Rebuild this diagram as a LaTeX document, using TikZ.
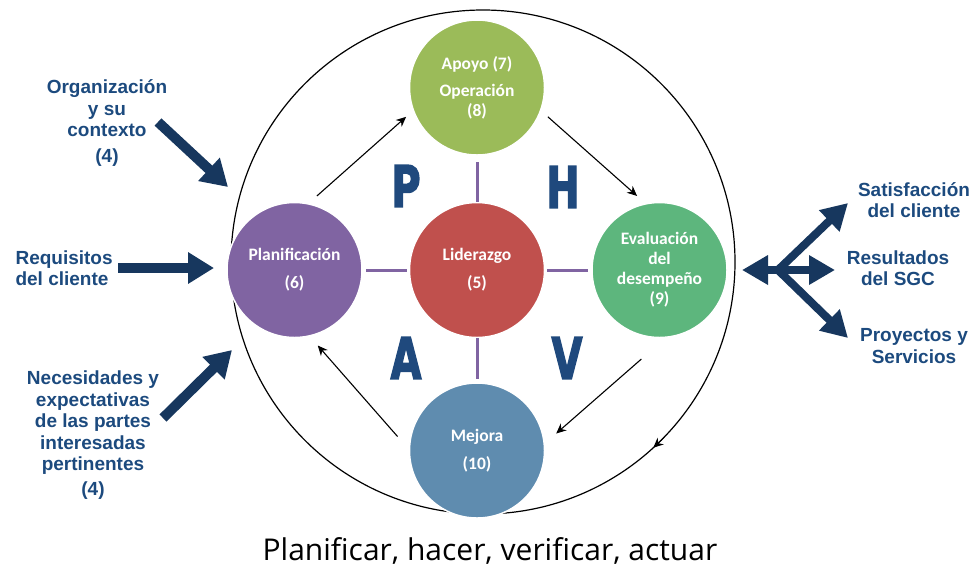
\documentclass[tikz,border=0pt]{standalone}
\usepackage{fontspec}
\setmainfont{Liberation Sans}
\newfontfamily\circfont{Carlito}
\newfontfamily\captfont{Open Sans}
\newfontfamily\letterfont{DejaVu Sans}[BoldFeatures={FakeBold=3}]
\usetikzlibrary{arrows.meta,positioning,shapes}

\definecolor{lidred}{HTML}{C0504D}
\definecolor{apoyogreen}{HTML}{9BBB59}
\definecolor{planpurple}{HTML}{8064A2}
\definecolor{evalgreen}{HTML}{5DB67D}
\definecolor{mejorablue}{HTML}{5F8CAF}
\definecolor{letterblue}{HTML}{1F497D}
\definecolor{labelblue}{HTML}{1C4A7E}
\definecolor{arrowblue}{HTML}{17375E}

\begin{document}
\begin{tikzpicture}[x=1pt,y=-1pt,>={Stealth[length=10pt,width=9pt]},thin]
\tikzstyle{phase}=[circle,draw=white,line width=1.5pt,minimum size=135pt,inner sep=0pt,text=white,align=center,font=\circfont\bfseries\fontsize{17.5}{20}\selectfont]
\tikzstyle{link}=[draw=planpurple,line width=3pt]
\tikzstyle{flow}=[->,line width=1.1pt]
\tikzstyle{bigarrow}=[draw=arrowblue,line width=10pt,-{Triangle[length=26pt,width=30pt]}]
\tikzstyle{outarrow}=[draw=arrowblue,line width=8pt,-{Triangle[length=26pt,width=28pt]}]
\tikzstyle{letter}=[text=letterblue,font=\letterfont\bfseries\fontsize{57}{57}\selectfont]
\tikzstyle{label}=[text=labelblue,align=center,font=\bfseries\fontsize{19}{21.5}\selectfont]

\useasboundingbox (0,0) rectangle (976,566);

\node[draw,circle,line width=1.2pt,minimum size=504pt,inner sep=0pt] (ring) at (483,262) {};
\draw[flow] ([shift={(44:252)}]ring.center) arc[start angle=44,end angle=47.5,radius=252];

\node[phase,fill=lidred]     (lid)    at (477,270)        {Liderazgo\\[8pt](5)};
\node[phase,fill=apoyogreen] (apoyo)  [above=46pt of lid] {Apoyo (7)\\[7pt]Operación\\(8)};
\node[phase,fill=planpurple] (plan)   [left=46pt of lid]  {Planificación\\[8pt](6)};
\node[phase,fill=evalgreen]  (eval)   [right=46pt of lid] {Evaluación\\del\\desempeño\\(9)};
\node[phase,fill=mejorablue] (mejora) [below=44pt of lid] {Mejora\\[8pt](10)};

\path[link]
(lid) edge[shorten >=6pt] (apoyo)
(lid) edge[shorten >=3pt,shorten <=2pt] (plan)
(lid) edge[shorten >=3pt,shorten <=2pt] (eval)
(lid) edge[shorten >=3pt] (mejora);

\path[flow]
(plan.78)    edge[shorten <=11pt,shorten >=9pt]  (apoyo.200)
(apoyo.-20)  edge[shorten <=9pt,shorten >=11pt]  (eval.102)
(eval.-85)   edge[shorten <=32pt,shorten >=15pt] (mejora.6)
(mejora.179) edge[shorten <=17pt,shorten >=12pt] (plan.-77);

\node[letter] (P) at (406,186) {\scalebox{0.7}[1]{P}};
\node[letter] (H) at (563,187) {\scalebox{0.7}[1]{H}};
\node[letter] (A) at (406,358) {\scalebox{0.7}[1]{A}};
\node[letter] (V) at (567,358) {\scalebox{0.7}[1]{V}};

% entradas
\node[label] (org) at (107,123) {Organización\\y su\\contexto\\[4pt](4)};
\node[label,align=left,anchor=west] (req) at (12,268) {Requisitos\\del cliente};
\node[label] (nec) at (93,435) {Necesidades y\\expectativas\\de las partes\\interesadas\\pertinentes\\[3pt](4)};

\coordinate (orgtail) at (158,122);
\coordinate (orgtip)  at (228,187);
\coordinate (reqtail) at (118,268);
\coordinate (reqtip)  at (214,268);
\coordinate (nectail) at (163,418);
\coordinate (nectip)  at (232,350);
\draw[bigarrow] (orgtail) -- (orgtip);
\draw[bigarrow] (reqtail) -- (reqtip);
\draw[bigarrow] (nectail) -- (nectip);

% salidas
\node[label] (sat)  at (914,200) {Satisfacción\\del cliente};
\node[label] (res)  at (898,268) {Resultados\\del SGC};
\node[label] (proy) at (914,346) {Proyectos y\\Servicios};

\coordinate (hub)     at (778,270);
\coordinate (backtip) at (742,270);
\coordinate (sattip)  at (848,203);
\coordinate (restip)  at (835,270);
\coordinate (proytip) at (848,338);
\draw[outarrow] (hub) -- (backtip);
\draw[outarrow] (hub) -- (sattip);
\draw[outarrow] (hub) -- (restip);
\draw[outarrow] (hub) -- (proytip);

\node[font=\captfont\fontsize{30}{34}\selectfont,anchor=base] (caption) at (490,560) {Planificar, hacer, verificar, actuar};
\end{tikzpicture}
\end{document}
